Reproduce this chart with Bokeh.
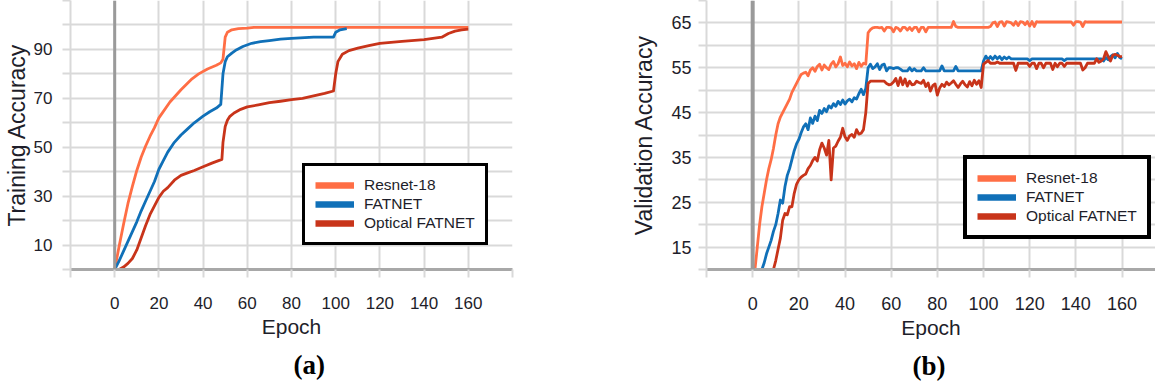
from bokeh.core.properties import value
from bokeh.layouts import row
from bokeh.models import FixedTicker, Span, Legend, LegendItem, Range1d, Title
from bokeh.plotting import figure
from bokeh.embed import file_html
from bokeh.resources import INLINE

# ---------------- data ----------------
series_names = ["Resnet-18", "FATNET", "Optical FATNET"]

# (a) training accuracy (smooth curves)
train_resnet_epoch = [0, 2, 4, 6, 8, 10, 12, 14, 16, 18, 20, 25, 30, 35, 38, 42, 46, 48, 49, 50, 51, 53, 56, 60, 63, 80, 100, 120, 140, 160]
train_resnet_acc = [0, 9.5, 18.5, 27, 34, 40.5, 46, 50.5, 54.5, 58, 62, 68.5, 73.5, 78, 80, 82, 83.5, 84.5, 86, 95, 97, 98, 98.5, 98.7, 99, 99, 99, 99, 99, 99]

train_fatnet_epoch = [0, 2, 4, 6, 8, 10, 12, 14, 16, 18, 20, 22, 24, 27, 30, 33, 36, 40, 43, 46, 48, 49, 50, 51, 53, 55, 58, 62, 66, 70, 75, 80, 90, 99, 100, 102, 105]
train_fatnet_acc = [0, 3.5, 7.5, 11.5, 15.5, 19.5, 24, 28, 32, 36, 41, 44.5, 48, 52, 55, 57.5, 60, 62.7, 64.5, 66, 67.5, 80, 85, 87, 88.5, 89.8, 91.2, 92.5, 93.2, 93.6, 94.2, 94.5, 95, 95, 97, 98, 98.5]

train_optical_epoch = [0, 2, 4, 6, 8, 10, 12, 14, 16, 18, 20, 22, 24, 27, 30, 33, 36, 40, 44, 47, 48.5, 49, 50, 51, 52, 54, 57, 60, 65, 70, 75, 80, 85, 90, 95, 99, 100, 101, 103, 106, 110, 115, 120, 130, 140, 144, 148, 151, 154, 157, 160]
train_optical_acc = [0, 0, 1, 2.5, 4.5, 8, 13, 18, 22.5, 26, 29.5, 32, 33.5, 36.5, 38.5, 39.5, 40.5, 42, 43.5, 44.5, 45, 52, 58.5, 61, 62.5, 64, 65.5, 66.5, 67.3, 68.2, 68.8, 69.5, 70, 71, 72, 73, 80, 85, 88, 89.5, 90.5, 91.5, 92.5, 93.3, 94, 94.5, 95, 96.5, 97.5, 98, 98.3]

# (b) validation accuracy, one value per epoch starting at epoch 0
val_resnet = [
    4, 10, 15, 20, 24, 27, 30, 32.5, 34.5, 37,
    40, 42.5, 44, 45, 46, 47, 48, 49.5, 50.5, 51.5,
    52.5, 53.5, 53.8, 54, 53.2, 54.5, 55, 54.2, 55.3, 55.8,
    54.5, 55.6, 55, 54.6, 55.8, 56.4, 55.2, 55.9, 57.4, 55.5,
    56, 55.2, 56.3, 55.4, 55.9, 54.8, 56.2, 55.3, 56, 55.8,
    62.8, 63.5, 63.9, 64, 64, 63.9, 64, 63.2, 64, 64,
    63.9, 63, 64, 63.8, 63.2, 64, 64, 63.4, 64, 63.3,
    64, 64, 63.0, 64, 64, 63.0, 64, 64, 64, 64,
    64, 64, 64, 64, 64, 64, 64, 65.3, 64.2, 64,
    64, 64, 64, 64, 64, 64, 64, 64, 64, 64,
    64, 64, 64, 64.2, 65, 65.2, 64.2, 65.2, 65.3, 64.3,
    65.3, 65.2, 65, 64.5, 65.3, 64.4, 65.3, 65.2, 64.6, 65.3,
    64.3, 65.3, 64.2, 65.3, 65.2, 65.2, 65.2, 65.2, 65.2, 65.2,
    65.2, 65.2, 65.2, 65.2, 65.2, 65.2, 65.2, 65.2, 65.2, 64.5,
    65.3, 65.3, 65.2, 64.2, 65.3, 65.2, 65.2, 65.2, 65.2, 65.2,
    65.2, 65.2, 65.2, 65.2, 65.2, 65.2, 65.2, 65.2, 65.2, 65.2,
    65.2,
]
val_fatnet = [
    0, 2, 5, 8, 10, 11.5, 13.5, 15, 16.5, 18.5,
    20, 22.5, 25.5, 24.8, 28.5, 31, 32.5, 34.5, 36.5, 38,
    39, 40.5, 41.8, 42.5, 41.2, 43.8, 42.6, 44.2, 43.2, 45.5,
    44.8, 45.9, 45.2, 46.5, 46, 47, 46.4, 47.5, 46.8, 47.8,
    46.9, 47.6, 48, 47.4, 48.3, 48, 49.2, 50.2, 49, 50.4,
    55, 55.8, 54.8, 55.2, 55.9, 54.6, 55.6, 55.8, 54.3, 55,
    55, 54.8, 55, 55, 54.7, 54.3, 54.3, 54.3, 55, 54.3,
    54.8, 54.3, 54.3, 54.3, 55, 54.3, 54.3, 54.3, 54.3, 54.3,
    54.3, 54.3, 55.4, 54.3, 54.3, 54.3, 54.3, 54.3, 55.3, 54.3,
    54.3, 54.3, 54.3, 54.3, 54.3, 54.3, 54.3, 54.3, 54.3, 54.3,
    56.5, 57.6, 56.8, 57.5, 56.9, 57.6, 57, 57.5, 56.8, 57.4,
    57, 57.4, 57, 57, 57, 57, 57, 57, 57, 57,
    56.6, 57, 57, 57, 57, 57, 57, 57, 57, 57,
    57, 57, 57, 57, 57, 56.6, 57, 57, 57, 57,
    57, 57, 57, 57, 57, 57, 57, 57, 57, 57,
    57, 57, 56.5, 57.3, 56.8, 57.5, 57.9, 57.2, 58.2, 57.3,
    57,
]
val_optical = [
    0, 0, 0, 1, 2, 3, 4, 5.5, 7.5, 10,
    12, 14.5, 17, 21, 22.5, 22.2, 24, 24, 27, 29,
    30, 30.6, 31, 31.3, 32.5, 33.2, 34.3, 35, 34.2, 36.7,
    38.2, 37.1, 35.5, 38.8, 30, 37.1, 37.5, 38.6, 39.5, 41.5,
    39.6, 38.8, 39.8, 40.1, 39.5, 41.2, 40.2, 40.4, 41.2, 45,
    51.5, 52, 52, 52, 52, 52, 52, 52, 51.5, 51.2,
    51.3, 51.8, 52.6, 51, 52.8, 51.2, 52.5, 50.9, 52, 51.2,
    51.3, 52, 51.7, 51.5, 52.2, 50.8, 51.6, 49.8, 51, 51.4,
    48.9, 50.5, 51.3, 50.8, 51.8, 51.2, 51.6, 52.1, 51.3, 50.6,
    51.4, 52, 51.2, 50.7, 51.9, 51, 52.2, 51.3, 52.1, 50.6,
    55.8, 56.2, 56.6, 56, 56, 56, 56.3, 56, 56, 56,
    56, 56, 56, 56, 54.4, 56, 56, 56, 56, 56,
    55.3, 56, 56, 54.8, 56, 56, 55, 56, 56, 56,
    54.6, 56, 55.2, 56, 56, 55.3, 56, 56, 56, 56,
    56, 56, 56, 54.5, 55, 56, 56, 56, 56, 57,
    56.2, 56.5, 57, 58.6, 57.5, 56.5, 57.8, 58, 57.8, 57.5,
    57.5,
]

x_ticks = [-20, 0, 20, 40, 60, 80, 100, 120, 140, 160, 180]
x_labelled = [0, 20, 40, 60, 80, 100, 120, 140, 160]
a_y_ticks = [0, 10, 20, 30, 40, 50, 60, 70, 80, 90, 100, 110]
a_y_labelled = [10, 30, 50, 70, 90]
b_y_ticks = [10, 15, 20, 25, 30, 35, 40, 45, 50, 55, 60, 65, 70]
b_y_labelled = [15, 25, 35, 45, 55, 65]

# ---------------- styling ----------------
COLORS = ["#FF6E45", "#1070B8", "#C8341A"]
GRID = "#d9d9d9"
TEXT = "#1e1e2a"
FONT = "Liberation Sans"


def overrides(ticks, labelled):
    return {t: (str(t) if t in labelled else "") for t in ticks}


def make_panel(title, ylabel, xr, yr, y_ticks, y_labelled, frame_w, border_left,
               border_right, tick_size, ylab_size, ylab_standoff, ylab_lbl_standoff,
               zero_w, title_offset, legend_loc, series_x, series_y, legend_border):
    p = figure(output_backend="svg", toolbar_location=None,
               x_range=Range1d(*xr), y_range=Range1d(*yr),
               frame_width=frame_w, frame_height=269,
               min_border_left=border_left, min_border_right=border_right,
               min_border_top=0, min_border_bottom=105,
               background_fill_color="white", border_fill_color="white")
    p.outline_line_color = None

    p.xaxis.ticker = FixedTicker(ticks=x_ticks)
    p.yaxis.ticker = FixedTicker(ticks=y_ticks)
    p.xgrid.ticker = FixedTicker(ticks=x_ticks)
    p.ygrid.ticker = FixedTicker(ticks=y_ticks)
    p.xaxis.major_label_overrides = overrides(x_ticks, x_labelled)
    p.yaxis.major_label_overrides = overrides(y_ticks, y_labelled)
    for g in (p.xgrid, p.ygrid):
        g.grid_line_color = GRID
        g.grid_line_width = 2

    for ax in (p.xaxis, p.yaxis):
        ax.minor_tick_line_color = None
        ax.major_tick_in = 0
        ax.major_tick_out = 8
        ax.major_tick_line_color = GRID
        ax.major_tick_line_width = 2
        ax.major_label_text_font = FONT
        ax.major_label_text_font_size = tick_size
        ax.major_label_text_color = TEXT
        ax.axis_label_text_font = FONT
        ax.axis_label_text_font_style = "normal"
        ax.axis_label_text_color = TEXT
    p.xaxis.axis_line_color = "#a8a8a8"
    p.xaxis.axis_line_width = 3
    p.yaxis.axis_line_color = GRID
    p.yaxis.axis_line_width = 2
    p.xaxis.axis_label = "Epoch"
    p.xaxis.axis_label_text_font_size = "21px"
    p.xaxis.major_label_standoff = 19
    p.xaxis.axis_label_standoff = 3
    p.yaxis.axis_label = ylabel
    p.yaxis.axis_label_text_font_size = ylab_size
    p.yaxis.major_label_standoff = ylab_standoff
    p.yaxis.axis_label_standoff = ylab_lbl_standoff

    p.add_layout(Span(location=0, dimension="height", line_color="#9a9a9a",
                      line_width=zero_w))

    for xs, ys, c in zip(series_x, series_y, COLORS):
        p.line(xs, ys, line_color=c, line_width=2.8, line_join="round")

    # legend swatches: single-point lines (draw nothing in the plot) with thick stroke
    dummies = [p.line(xs[:1], ys[:1], line_color=c, line_width=6.5)
               for xs, ys, c in zip(series_x, series_y, COLORS)]
    legend = Legend(items=[LegendItem(label=n, renderers=[r])
                           for n, r in zip(series_names, dummies)],
                    location=legend_loc, margin=0, padding=10, spacing=1,
                    label_standoff=10, glyph_width=39, glyph_height=16,
                    label_height=16, label_text_font=FONT,
                    label_text_font_size="15.5px", label_text_color=TEXT,
                    border_line_color="black", border_line_alpha=1.0,
                    border_line_width=legend_border,
                    background_fill_color="white", background_fill_alpha=1.0)
    p.add_layout(legend)

    p.add_layout(Title(text=title, align="left", offset=title_offset, standoff=14,
                       text_font="Liberation Serif", text_font_size="27px",
                       text_font_style="bold", text_color="black"), "below")
    return p


pa = make_panel("(a)", "Training Accuracy", (-20, 180), (0, 110), a_y_ticks, a_y_labelled,
                442, 66, 109, "17px", "23px", 10, 1, 3, 223, (232, 24),
                [train_resnet_epoch, train_fatnet_epoch, train_optical_epoch],
                [train_resnet_acc, train_fatnet_acc, train_optical_acc], 3)

val_x = [list(range(len(s))) for s in (val_resnet, val_fatnet, val_optical)]
pb = make_panel("(b)", "Validation Accuracy", (-20, 174.5), (10, 70), b_y_ticks, b_y_labelled,
                449, 85, 0, "18px", "23px", 7, 11, 4, 206, (257, 30),
                val_x, [val_resnet, val_fatnet, val_optical], 4)

layout = row(pa, pb)
open("out.html", "w").write(file_html(layout, INLINE))
